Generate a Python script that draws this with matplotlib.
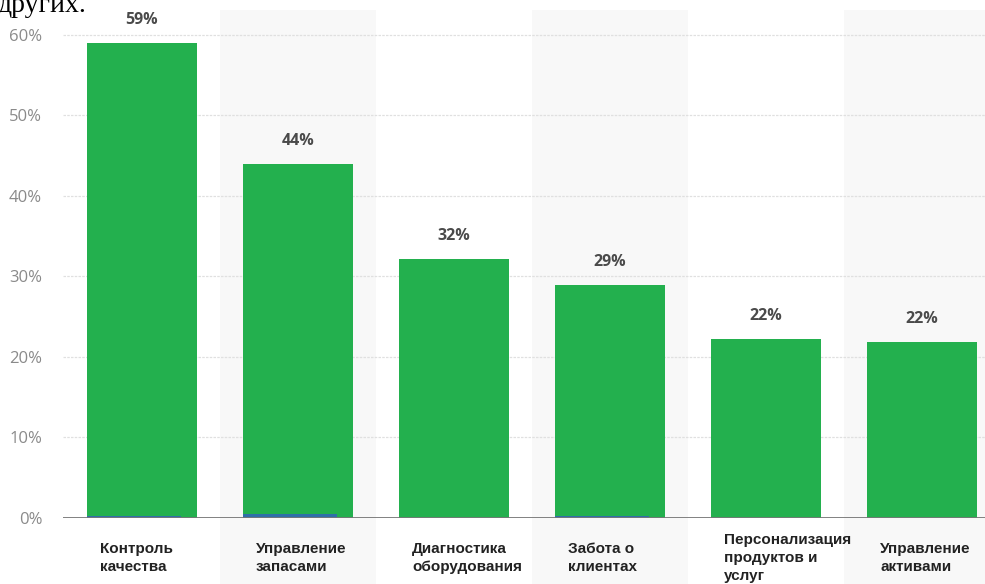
import numpy as np
import matplotlib.pyplot as plt

plt.rcParams['font.family'] = ['Liberation Sans', 'DejaVu Sans']

# data
categories = ['Контроль\nкачества', 'Управление\nзапасами', 'Диагностика\nоборудования',
              'Забота о\nклиентах', 'Персонализация\nпродуктов и\nуслуг', 'Управление\nактивами']
values = [59, 44, 32.2, 29, 22.2, 21.9]
value_labels = ['59%', '44%', '32%', '29%', '22%', '22%']
blue_values = [0.25, 0.45, 0, 0.2, 0, 0]
yticks = [0, 10, 20, 30, 40, 50, 60]

W, H = 985, 584
fig = plt.figure(figsize=(9.85, 5.84), dpi=100)
ax_left, ax_right, ax_top, ax_bot = 63, 985, 10, 518
ax = fig.add_axes([ax_left / W, 1 - ax_bot / H, (ax_right - ax_left) / W, (ax_bot - ax_top) / H])

x = np.arange(len(categories))
ax.set_xlim(-0.506, 5.404)
ax.set_ylim(0, 63.1)

# alternating shaded bands
for i in x:
    if i % 2 == 1:
        ax.axvspan(i - 0.5, i + 0.5, ymin=-0.14, ymax=1, color='#f8f8f8', zorder=0, clip_on=False, lw=0)

for t in yticks[1:]:
    ax.axhline(t, color='#e0e0e0', lw=0.9, ls=(0, (2, 1)), zorder=1)
ax.axhline(0, color='#777777', lw=1.3, zorder=4)

ax.bar(x, values, width=0.705, color='#23b04e', zorder=2)
ax.bar(x - 0.05, blue_values, width=0.6, color='#2f6fa8', zorder=3)

for xi, v, lab in zip(x, values, value_labels):
    ax.annotate(lab, (xi, v), xytext=(0, 23), textcoords='offset pixels', ha='center', va='center',
                fontsize=11.5, fontweight='bold', color='#4a4a4a', family=['Open Sans', 'DejaVu Sans'])

for xi, cat in zip(x, categories):
    ax.annotate(cat, (xi - 0.352, 0), xytext=(13, -40), textcoords='offset pixels', ha='left', va='center',
                fontsize=11, fontweight='bold', color='#222222', linespacing=1.4, annotation_clip=False)

ax.set_yticks(yticks)
ax.set_yticklabels([f'{t}%' for t in yticks], fontsize=12, color='#8a8a8a', family=['Open Sans', 'DejaVu Sans'])
ax.tick_params(axis='y', length=0, pad=15)
ax.set_xticks([])
for s in ax.spines.values():
    s.set_visible(False)
ax.patch.set_alpha(0)

fig.text(-2 / W, 1 - 12 / H, 'других.', fontsize=20, family='Liberation Serif', color='black',
         ha='left', va='baseline')

plt.savefig('out.png', dpi=100)
